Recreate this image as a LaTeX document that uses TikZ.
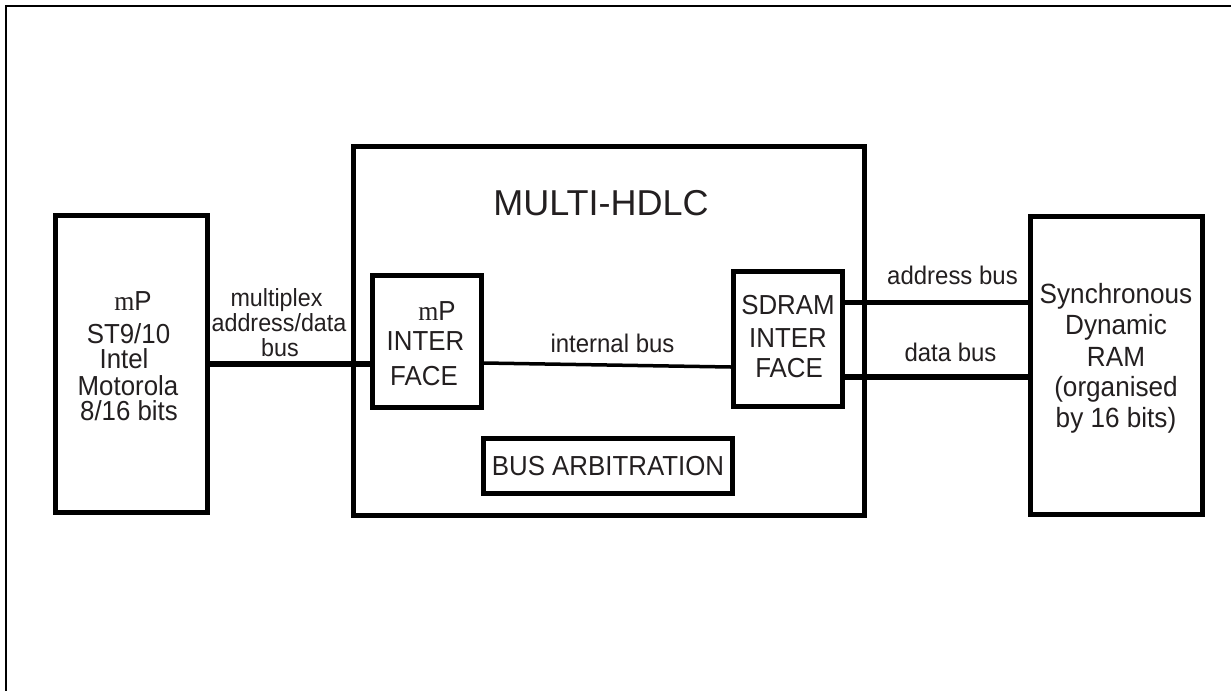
\documentclass[tikz,border=0pt]{standalone}
\usepackage{fontspec}
\setmainfont[FakeStretch=0.94]{Liberation Sans}
\newfontfamily\titlefont{Liberation Sans}
\newfontfamily\serifm[FakeStretch=0.94]{Liberation Serif}
\usetikzlibrary{calc}
\definecolor{ink}{HTML}{231F20}
\tikzset{
  blk/.style={draw=black, line width=5pt, inner sep=0pt},
  busline/.style={draw=black, line width=5.3pt},
  ibusline/.style={draw=black, line width=3.5pt},
  outerframe/.style={draw=black, line width=2.3pt},
  txt/.style={anchor=base, inner sep=0pt, text=ink, font=\fontsize{27.5}{30}\selectfont},
  iftxt/.style={txt, font=\fontsize{27.5}{30}\selectfont},
  ramtxt/.style={txt, font=\fontsize{27.8}{30}\selectfont},
  lbl/.style={txt, font=\fontsize{25.5}{28}\selectfont},
  mlbl/.style={txt, font=\fontsize{24.8}{28}\selectfont},
  ttl/.style={txt, font=\titlefont\fontsize{36}{42}\selectfont},
}
\begin{document}
\begin{tikzpicture}[x=1pt,y=-1pt]
\useasboundingbox (0,0) rectangle (1231,691);
\draw[outerframe] (1231,5.7) -- (5.7,5.7) -- (5.7,691);

% boxes
\node[blk, minimum width=152.5, minimum height=297] (mpu) at (131.25,364) {};
\node[blk, minimum width=511, minimum height=369.5] (hdlc) at (608.5,330.75) {};
\node[blk, minimum width=109, minimum height=132.5] (muif) at (426.5,341.25) {};
\node[blk, minimum width=109, minimum height=135.5] (sdif) at (788,338.75) {};
\node[blk, minimum width=249.5, minimum height=54.5] (arb) at (608,465.75) {};
\node[blk, minimum width=172, minimum height=298] (ram) at (1116.5,365) {};

% texts in the processor box
\node[txt] (mpuA) at (133,310) {{\serifm m}P};
\node[txt] (mpuB) at (128.5,343.5) {ST9/10};
\node[txt] (mpuC) at (124,368.5) {Intel};
\node[txt] (mpuD) at (128,395) {Motorola};
\node[txt] (mpuE) at (129,420) {8/16 bits};

% MULTI-HDLC
\node[ttl] (title) at (601,215) {MULTI-HDLC};
\node[iftxt] (muifA) at (437,320) {{\serifm m}P};
\node[iftxt] (muifB) at (425.5,350) {INTER};
\node[iftxt] (muifC) at (424,385) {FACE};
\node[iftxt] (sdifA) at (788,314) {SDRAM};
\node[iftxt] (sdifB) at (788,347) {INTER};
\node[iftxt] (sdifC) at (789,377) {FACE};
\node[txt] (arbT) at (608,475) {BUS ARBITRATION};

% RAM texts
\node[ramtxt] (ramA) at (1116,303) {Synchronous};
\node[ramtxt] (ramB) at (1116,334) {Dynamic};
\node[ramtxt] (ramC) at (1116,366) {RAM};
\node[ramtxt] (ramD) at (1116,396.5) {(organised};
\node[ramtxt] (ramE) at (1116,427) {by 16 bits)};

% bus labels
\node[mlbl] (lmA) at (276.5,306.5) {multiplex};
\node[mlbl] (lmB) at (279,331.5) {address/data};
\node[mlbl] (lmC) at (280,356) {bus};
\node[lbl] (lint) at (612.5,352) {internal bus};
\node[lbl] (ladr) at (952.5,284) {address bus};
\node[lbl] (ldat) at (950.5,361) {data bus};

% connectors
\coordinate (abS) at ($(sdif.east)+(0,-36.25)$);
\coordinate (dbS) at ($(sdif.east)+(0,38.25)$);
\draw[busline] (mpu.east) -- (mpu.east -| muif.west);
\draw[ibusline] ($(muif.east)+(0,21.75)$) -- ($(sdif.west)+(0,28.25)$);
\draw[busline] (abS) -- (abS -| ram.west);
\draw[busline] (dbS) -- (dbS -| ram.west);
\end{tikzpicture}
\end{document}
